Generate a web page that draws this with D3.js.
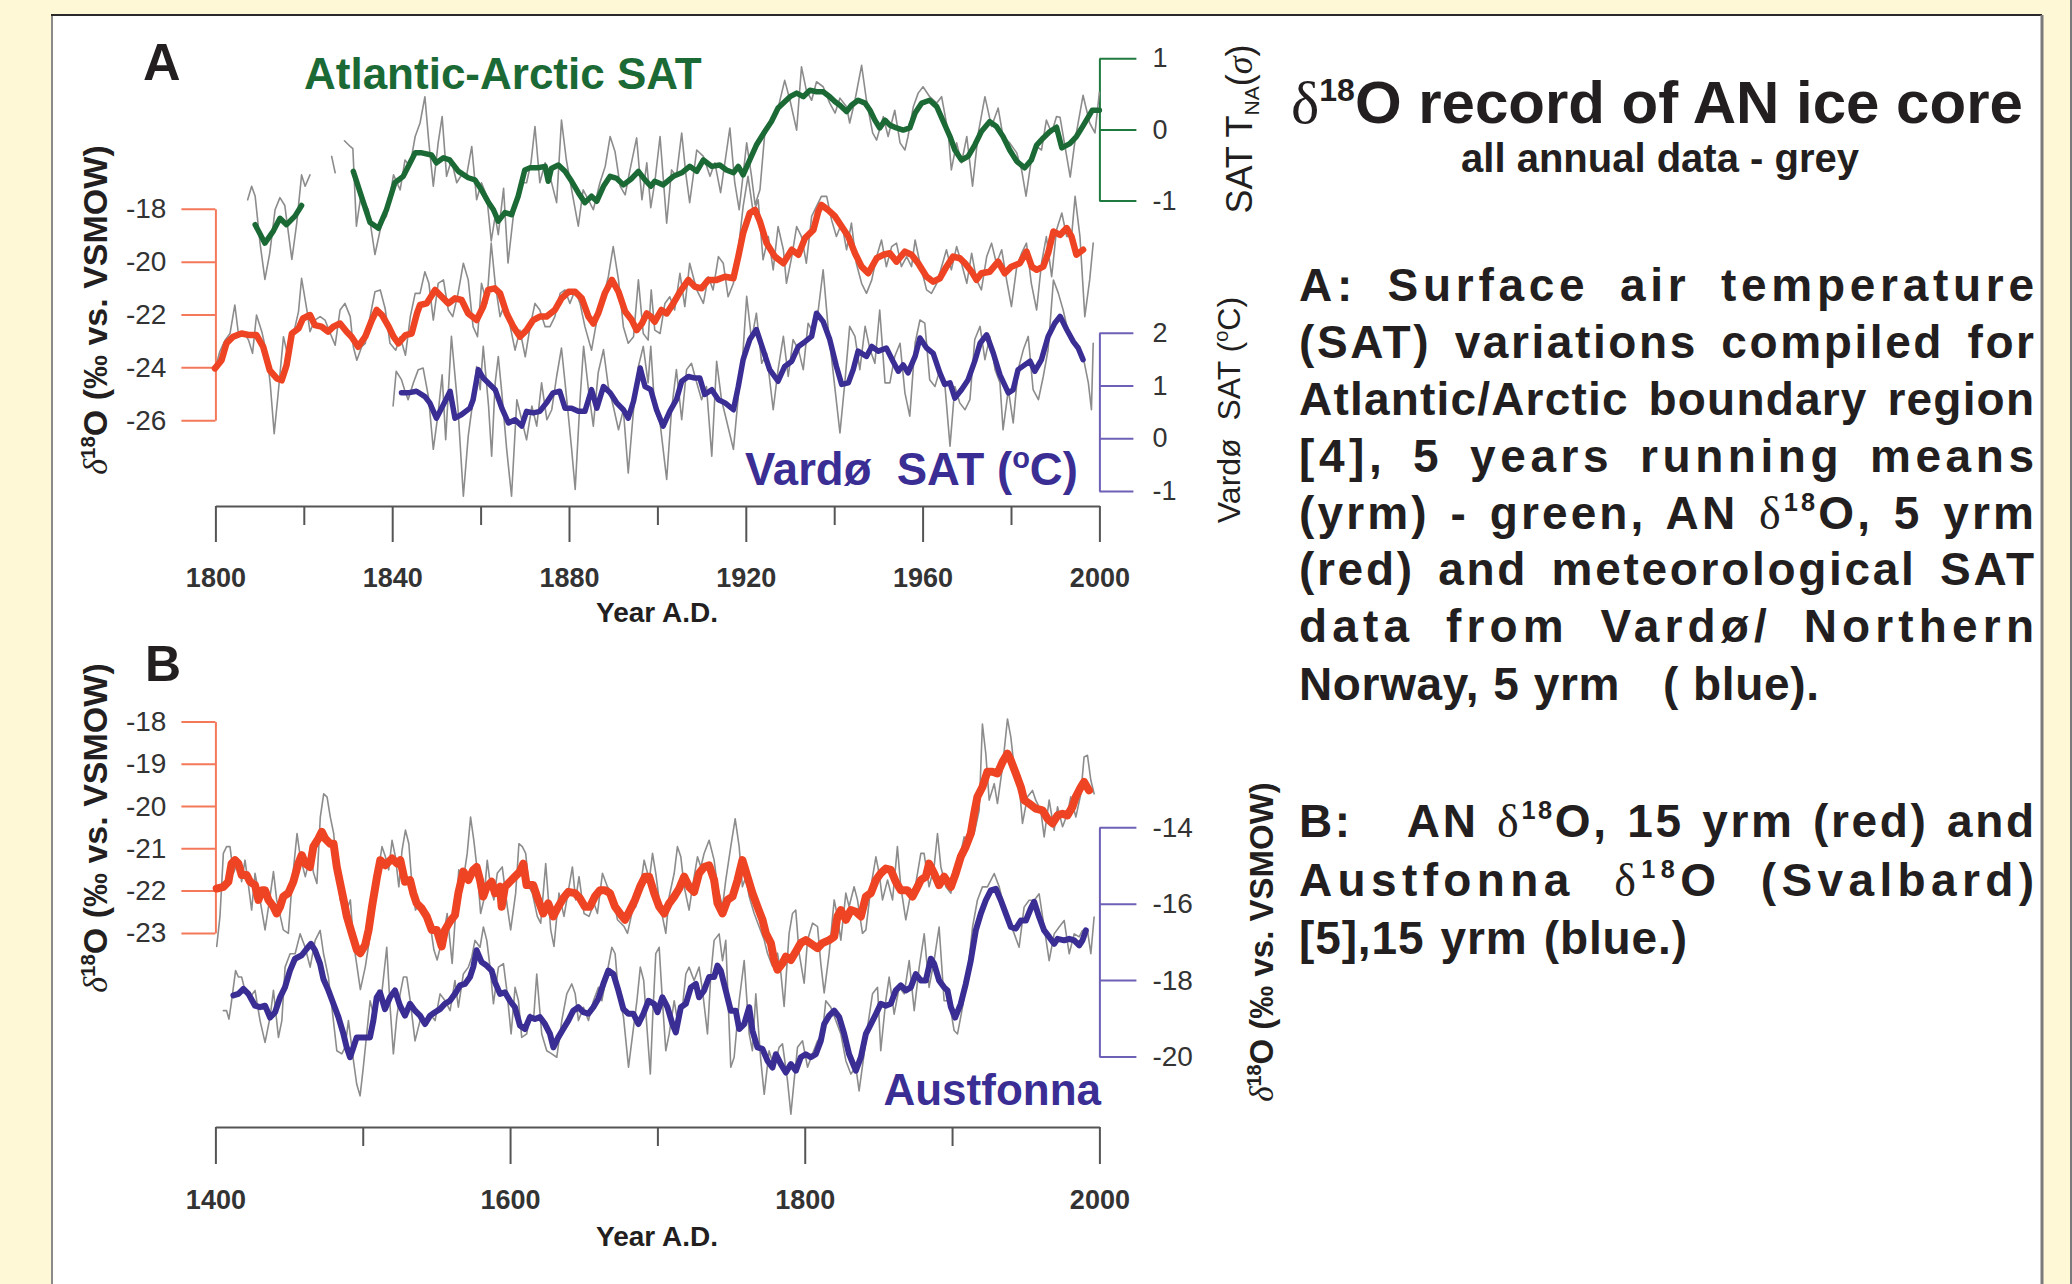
<!DOCTYPE html>
<html>
<head>
<meta charset="utf-8">
<script src="https://cdn.jsdelivr.net/npm/d3@7"></script>
<style>
  body { margin: 0; background: #fff8d7; }
  svg text { white-space: pre; }
</style>
</head>
<body>
<svg id="fig" width="2072" height="1284"></svg>
<script>
// ---- panel A : 1800-2000 ----
// Atlantic-Arctic SAT (sigma), annual (grey) and 5 yrm (green); null = gap
const aSatAnnual = [[1807.3,-0.99],[1808.2,-0.80],[1809,-0.94],[1810.1,-1.60],[1811.2,-2.11],[1812.3,-1.74],[1813.5,-1.13],[1814.6,-0.96],[1815.7,-1.07],[1817.3,-1.83],[1818.4,-1.32],[1819.5,-0.64],[1820.3,-0.80],[1821.4,-0.64],[1824,null],[1826.3,-0.38],[1827.1,-0.61],[1828,null],[1829.2,-0.16],[1830.5,-0.24],[1831.1,-0.27],[1831.9,-1.36],[1832.9,-0.94],[1834.6,-1.13],[1836.1,-1.76],[1837.6,-1.32],[1838.7,-1.22],[1840.3,-0.64],[1841.8,-0.85],[1842.9,-0.43],[1844,-0.52],[1845.2,-0.10],[1846.3,0.09],[1847.4,0.46],[1848.3,-0.19],[1849.3,-0.80],[1850.4,-0.19],[1851.3,0.18],[1852.3,-0.66],[1853.4,-0.43],[1854.6,-0.75],[1855.7,-0.64],[1856.8,-0.66],[1858,-0.24],[1859.1,-0.99],[1860.2,-0.75],[1861.4,-0.94],[1862.4,-1.57],[1863.3,-1.22],[1864,-1.48],[1865.2,-0.83],[1866.2,-1.88],[1867.4,-1.22],[1868.9,-0.75],[1870.4,-0.75],[1871.4,-0.47],[1872.3,0.04],[1873.4,-0.75],[1874.6,-0.47],[1875.7,-0.66],[1877.2,-1.03],[1878.3,0.13],[1879.4,-0.43],[1880.6,-0.85],[1882.1,-1.36],[1883.2,-0.85],[1884.4,-0.99],[1885.5,-1.13],[1887,-0.75],[1888.2,-0.52],[1889.3,-0.10],[1890.4,-0.31],[1891.6,-0.80],[1892.7,-0.92],[1893.8,-0.57],[1895.3,-0.12],[1896.5,-0.99],[1897.6,-0.47],[1898.5,-1.10],[1899.4,-0.75],[1900.6,-0.10],[1902.1,-1.32],[1903.2,-0.57],[1904.3,-0.66],[1905.5,-0.05],[1906.4,-0.61],[1907.3,-1.03],[1908.9,-0.29],[1910.4,-0.38],[1911.9,-0.66],[1913,-0.47],[1914.3,-0.89],[1916.4,0.02],[1917.5,-0.75],[1918.5,-1.13],[1920.2,-0.19],[1921.3,-0.66],[1922.1,-1.06],[1923.2,-0.85],[1924.3,-0.05],[1926.2,0.13],[1927.3,0.30],[1928.8,0.69],[1930,0.41],[1931.5,-0.01],[1932.6,0.88],[1933.7,0.55],[1934.9,0.41],[1936,0.67],[1937.5,0.60],[1939,0.37],[1940.2,0.23],[1941.3,0.44],[1942.8,0.32],[1943.5,0.09],[1944.7,0.41],[1946.2,0.90],[1947.3,0.41],[1948.7,-0.05],[1949.6,-0.15],[1951.1,0.18],[1952.2,-0.10],[1953.7,0.27],[1954.9,-0.19],[1956,-0.29],[1956.7,-0.10],[1957.9,0.32],[1959,0.51],[1960.1,0.60],[1961.6,0.46],[1963.2,0.37],[1964.3,0.46],[1965.8,-0.05],[1966.5,-0.57],[1967.7,-0.19],[1968.8,-0.47],[1970,-0.10],[1971.3,-0.80],[1972.6,-0.05],[1974.1,0.46],[1975.6,0.04],[1977.1,0.30],[1978.2,-0.10],[1979.7,-0.19],[1981.3,-0.33],[1982.4,-0.57],[1983.4,-0.94],[1984.6,-0.43],[1985.8,-0.24],[1986.9,-0.29],[1988,0.13],[1989.2,-0.05],[1990.3,0.18],[1991.1,0.17],[1993.4,-0.67],[1994.5,-0.15],[1996.3,0.48],[1997.8,0.09],[1999,-0.05],[2000,0.52]];
const aSatMean = [[1809,-1.34],[1811.2,-1.60],[1813.1,-1.43],[1814.6,-1.25],[1816.1,-1.34],[1818,-1.22],[1819.5,-1.07],[1825,null],[1831.2,-0.59],[1833.5,-1.03],[1835,-1.31],[1836.9,-1.39],[1838.7,-1.13],[1840.6,-0.75],[1842.5,-0.66],[1845.2,-0.33],[1846.7,-0.33],[1848.9,-0.36],[1850,-0.47],[1851.6,-0.40],[1853,-0.43],[1855,-0.59],[1857.2,-0.68],[1858.7,-0.71],[1860.2,-0.85],[1861.8,-1.03],[1862.9,-1.13],[1864,-1.29],[1865.5,-1.17],[1867,-1.20],[1868.5,-0.94],[1870,-0.57],[1871.2,-0.54],[1873,-0.54],[1874.6,-0.52],[1875.3,-0.73],[1876,-0.55],[1877.6,-0.50],[1879.1,-0.59],[1880.6,-0.73],[1882.1,-0.89],[1883.6,-1.03],[1885.1,-0.94],[1886.3,-1.01],[1887.8,-0.80],[1889.3,-0.66],[1890.8,-0.69],[1892.3,-0.78],[1894.2,-0.69],[1895.7,-0.59],[1897.2,-0.71],[1898.5,-0.80],[1899.4,-0.73],[1901.3,-0.78],[1903.6,-0.66],[1905.5,-0.61],[1907.3,-0.52],[1908.9,-0.59],[1910.4,-0.43],[1912.3,-0.52],[1914.1,-0.50],[1915.6,-0.57],[1917.2,-0.61],[1918.3,-0.52],[1919.4,-0.64],[1920.9,-0.43],[1922.4,-0.22],[1924.3,-0.03],[1925.8,0.11],[1927.3,0.30],[1928.5,0.37],[1930,0.46],[1931.5,0.51],[1933,0.46],[1934.5,0.55],[1936,0.53],[1937.5,0.53],[1939,0.46],[1940.2,0.39],[1941.3,0.34],[1942.8,0.25],[1943.9,0.34],[1945.4,0.41],[1947,0.37],[1948.1,0.27],[1949.2,0.13],[1950.3,0.02],[1951.5,0.13],[1952.6,0.06],[1954.1,0.02],[1955.6,-0.01],[1957.1,0.02],[1958.3,0.23],[1959.8,0.37],[1961.6,0.41],[1963.2,0.32],[1964.7,0.11],[1966.2,-0.10],[1967.3,-0.29],[1968.8,-0.43],[1970.3,-0.38],[1971.8,-0.22],[1973.3,-0.03],[1975.2,0.11],[1976.7,0.04],[1978.2,-0.10],[1979.7,-0.29],[1981.3,-0.45],[1983.1,-0.54],[1984.6,-0.43],[1985.8,-0.22],[1987.3,-0.12],[1988.8,-0.03],[1990.3,0.03],[1991.5,-0.26],[1993.3,-0.20],[1994.8,-0.10],[1996.3,0.05],[1998.4,0.27],[2000,0.27]];

// AN delta18O (permil), annual (grey) and 5 yrm (red)
const aIsoAnnual = [[1799.9,-24.1],[1801,-23.4],[1802.2,-22.97],[1803.3,-22.72],[1804.4,-21.64],[1805.2,-22.72],[1806.3,-22.65],[1807.5,-22.97],[1808.4,-23.47],[1809.3,-22.02],[1810.5,-22.65],[1811.6,-23.47],[1812.4,-24.61],[1813.3,-26.51],[1814.2,-24.99],[1815.4,-22.84],[1816.5,-23.66],[1817.6,-22.78],[1818.8,-21.89],[1819.5,-20.63],[1820.7,-21.83],[1821.4,-22.65],[1822.5,-22.21],[1823.7,-22.08],[1824.8,-22.21],[1826,-22.72],[1827.1,-23.16],[1828.2,-21.83],[1829.3,-21.58],[1830.5,-22.08],[1831.2,-23.22],[1832,-23.73],[1833.1,-23.22],[1833.9,-23.09],[1835,-22.08],[1836.1,-21.14],[1837.3,-21.07],[1838.4,-21.77],[1839.5,-23.09],[1840.8,-23.35],[1841.8,-22.84],[1843,-23.54],[1844.1,-22.08],[1845.2,-21.20],[1846.3,-21.20],[1847.4,-20.38],[1848.3,-20.82],[1849.3,-22.21],[1850.4,-20.82],[1851.6,-20.69],[1852.7,-21.83],[1853.7,-22.08],[1854.9,-21.20],[1856.1,-20.06],[1857.2,-20.69],[1858.3,-22.46],[1859.3,-22.84],[1860.2,-20.82],[1861.4,-21.58],[1862.4,-19.30],[1863.3,-20.82],[1864.4,-22.08],[1865.5,-21.58],[1866.7,-22.46],[1867.8,-23.35],[1868.9,-22.59],[1870.1,-23.60],[1871.2,-22.46],[1872.3,-21.58],[1873.4,-21.83],[1874.6,-22.46],[1875.7,-22.46],[1876.8,-22.08],[1878,-21.20],[1879.1,-21.07],[1880.2,-21.58],[1881.4,-21.07],[1882.5,-21.58],[1883.6,-22.46],[1885.1,-23.35],[1886.3,-22.21],[1887.8,-21.33],[1888.9,-20.57],[1890,-19.43],[1891.2,-20.69],[1892.3,-22.46],[1893.4,-23.09],[1894.6,-22.84],[1895.7,-20.69],[1896.8,-22.72],[1897.9,-22.97],[1898.6,-21.07],[1899.4,-22.59],[1900.6,-22.72],[1901.7,-21.58],[1902.8,-21.33],[1903.9,-21.83],[1905.1,-20.44],[1906.2,-21.70],[1907.3,-20.06],[1908.9,-21.07],[1910.4,-21.58],[1911.5,-20.57],[1912.6,-21.07],[1913.8,-19.81],[1914.9,-20.06],[1916,-21.33],[1917.2,-20.82],[1918.3,-19.55],[1919.4,-17.91],[1920.5,-16.77],[1921.7,-18.16],[1922.8,-17.66],[1923.9,-19.93],[1925.1,-19.05],[1926.2,-20.31],[1927.3,-18.67],[1928.5,-19.55],[1929.2,-20.82],[1930.4,-19.81],[1931.5,-18.67],[1932.6,-19.05],[1933.7,-20.06],[1934.9,-18.29],[1936,-17.91],[1937.1,-17.53],[1938.3,-17.53],[1939.4,-18.42],[1940.5,-19.05],[1941.7,-18.54],[1942.8,-19.55],[1943.9,-18.54],[1945,-20.06],[1946.2,-20.82],[1947.3,-21.20],[1948.5,-20.69],[1949.6,-19.81],[1950.7,-19.18],[1951.8,-20.19],[1953,-19.43],[1954.1,-19.30],[1955.2,-20.19],[1956.4,-19.81],[1957.5,-20.19],[1958.3,-19.18],[1959.4,-20.06],[1960.9,-21.07],[1962,-21.20],[1963.2,-20.82],[1964.3,-20.19],[1965.4,-19.55],[1966.5,-20.31],[1967.7,-19.43],[1968.8,-20.06],[1970,-20.82],[1971.1,-19.68],[1972.2,-20.69],[1973.3,-21.07],[1974.5,-19.81],[1975.6,-19.30],[1976.7,-20.06],[1977.9,-19.55],[1979,-20.69],[1980.1,-21.70],[1981.3,-20.19],[1982.4,-19.68],[1983.5,-19.30],[1984.6,-20.82],[1985.8,-21.83],[1986.9,-20.06],[1988,-19.05],[1989.2,-20.57],[1990.3,-18.80],[1991.5,-18.16],[1992.6,-19.05],[1993.7,-19.05],[1994.5,-17.53],[1995.6,-19.05],[1996.7,-22.08],[1997.8,-20.69],[1998.6,-19.30]];
const aIsoMean = [[1799.9,-24.04],[1801.4,-23.73],[1802.5,-23.09],[1804,-22.84],[1805.9,-22.72],[1807.8,-22.78],[1809.3,-22.78],[1810.8,-23.22],[1812.3,-24.11],[1813.9,-24.42],[1815,-24.49],[1816.1,-23.92],[1817.3,-22.72],[1818.8,-22.53],[1819.8,-22.15],[1821.4,-22.02],[1822.5,-22.40],[1824,-22.46],[1825.5,-22.65],[1826.7,-22.46],[1828.2,-22.34],[1829.7,-22.65],[1830.8,-22.84],[1832.3,-23.22],[1833.9,-22.84],[1835.4,-22.21],[1836.5,-21.83],[1837.7,-22.02],[1839.2,-22.46],[1840.3,-22.84],[1841.4,-23.09],[1843,-22.78],[1844.4,-22.72],[1845.6,-21.96],[1846.3,-21.64],[1847.8,-21.58],[1849.7,-21.07],[1851.2,-21.33],[1852.7,-21.58],[1854.2,-21.39],[1855.7,-21.45],[1857.2,-21.96],[1859.1,-22.21],[1860.6,-21.70],[1861.7,-21.07],[1863.2,-21.01],[1864.4,-21.20],[1865.9,-21.96],[1867.4,-22.46],[1868.9,-22.84],[1870.4,-22.59],[1871.9,-22.21],[1873.4,-22.08],[1874.9,-22.08],[1876.8,-21.83],[1878.3,-21.39],[1879.9,-21.14],[1881.4,-21.14],[1882.9,-21.39],[1884.4,-22.08],[1885.5,-22.34],[1886.6,-21.96],[1888.1,-21.20],[1889.7,-20.69],[1891.2,-21.14],[1892.7,-21.89],[1894.2,-22.21],[1895.3,-22.59],[1896.5,-22.34],[1897.6,-21.96],[1898.5,-22.08],[1899.4,-22.27],[1900.9,-21.83],[1902.1,-21.96],[1903.6,-21.58],[1905.1,-21.14],[1907,-20.69],[1908.5,-20.95],[1910,-21.01],[1911.5,-20.69],[1913.4,-20.69],[1915.3,-20.57],[1917.2,-20.63],[1918.3,-19.81],[1919.4,-18.92],[1920.9,-18.16],[1922.1,-18.04],[1923.2,-18.48],[1924.7,-19.30],[1926.6,-19.81],[1928.5,-20.06],[1930.4,-19.55],[1931.9,-19.74],[1933.4,-19.11],[1935.3,-18.80],[1936.4,-18.10],[1937.1,-17.85],[1938.6,-18.04],[1940.2,-18.29],[1941.7,-18.67],[1943.2,-19.05],[1944.7,-19.68],[1946.2,-20.19],[1947.7,-20.44],[1949.6,-19.87],[1951.1,-19.74],[1952.6,-19.68],[1954.1,-20.00],[1956,-19.62],[1957.5,-19.74],[1959,-20.06],[1960.9,-20.57],[1962.4,-20.76],[1963.9,-20.63],[1965.4,-20.19],[1966.9,-19.81],[1968.4,-19.87],[1969.6,-20.06],[1971.1,-20.38],[1972.2,-20.69],[1973.3,-20.44],[1975.2,-20.38],[1977.1,-20.00],[1978.6,-20.44],[1980.1,-20.19],[1982,-20.06],[1983.5,-19.62],[1984.7,-20.19],[1985.8,-20.31],[1987.3,-20.19],[1988.4,-19.68],[1989.6,-18.86],[1991.1,-18.99],[1992.6,-18.73],[1993.7,-19.05],[1994.8,-19.74],[1996.3,-19.55]];

// Vardo SAT (degC), annual (grey) and 5 yrm (blue)
const aVardoAnnual = [[1840.2,0.61],[1840.9,1.27],[1842.1,1.11],[1842.8,0.92],[1843.6,0.73],[1844.8,1.05],[1845.9,1.30],[1847,1.33],[1848.2,0.79],[1849.3,-0.21],[1850.4,0.48],[1851.3,1.20],[1852.1,-0.03],[1853.4,1.93],[1854.9,0.54],[1856.1,-1.10],[1857.2,0.04],[1858.3,0.73],[1859.1,1.36],[1859.9,0.92],[1860.6,1.74],[1861.8,0.61],[1862.5,-0.34],[1863.3,1.05],[1864,1.55],[1864.8,0.86],[1865.9,-0.21],[1867,-1.10],[1868.2,0.73],[1869.3,0.35],[1870.4,-0.03],[1871.6,0.61],[1872.7,0.23],[1873.8,1.05],[1875,0.35],[1876.1,0.54],[1877.2,1.17],[1878.3,1.71],[1879.5,0.73],[1880.6,-0.21],[1881.4,-0.97],[1882.5,0.73],[1883.3,1.74],[1884.4,0.92],[1885.5,0.23],[1886.6,1.24],[1887.8,1.68],[1888.9,0.98],[1890,0.61],[1891.2,0.16],[1892.3,0.54],[1893.4,-0.66],[1894.6,0.54],[1895.7,1.36],[1896.8,1.74],[1897.9,1.05],[1898.5,1.74],[1899.4,0.54],[1900.6,0.29],[1902.1,-0.78],[1903.2,0.54],[1904.3,1.30],[1905.5,0.35],[1906.6,1.30],[1907.7,1.42],[1908.9,1.05],[1910,0.73],[1911.1,0.98],[1912.3,-0.34],[1913.4,1.46],[1914.5,0.73],[1915.6,0.35],[1917.2,-0.21],[1918.3,0.79],[1919.4,1.68],[1920.2,2.69],[1921.3,1.87],[1922.4,2.37],[1923.6,1.42],[1924.7,1.61],[1926.2,0.54],[1927.3,1.30],[1928.5,1.93],[1929.6,1.17],[1930.7,1.87],[1931.9,1.68],[1933,1.30],[1934.1,2.18],[1935.3,1.99],[1936.4,2.43],[1937.5,3.19],[1938.6,2.12],[1940.2,0.92],[1941.3,0.10],[1942.4,1.05],[1943.5,2.12],[1944.7,1.93],[1945.8,1.30],[1947,2.12],[1948.1,1.68],[1949.2,1.42],[1950.3,2.43],[1951.5,1.05],[1952.6,1.05],[1953.7,1.55],[1954.9,1.80],[1956,0.86],[1957.1,0.42],[1958.3,1.80],[1959.4,2.24],[1960.5,2.18],[1961.6,1.11],[1962.8,0.98],[1963.9,1.30],[1965,1.05],[1966.2,-0.15],[1967.3,0.98],[1968.4,0.67],[1969.6,0.54],[1970.7,0.73],[1971.8,1.87],[1973,2.12],[1974.1,1.49],[1975.2,1.93],[1976.4,1.30],[1977.5,1.05],[1978.2,0.16],[1979.4,0.92],[1980.5,0.29],[1981.6,1.30],[1982.8,1.68],[1983.9,1.93],[1985,0.92],[1986.2,0.73],[1987.3,1.17],[1988.4,1.68],[1989.6,3.00],[1990.7,2.75],[1991.8,2.43],[1993,1.99],[1994.1,1.87],[1995.2,1.68],[1996.3,1.55],[1997.5,1.05],[1998.2,0.54],[1998.6,1.80]];
const aVardoMean = [[1842.1,0.86],[1843.6,0.86],[1845.5,0.89],[1847.4,0.79],[1848.5,0.67],[1850,0.38],[1851.6,0.64],[1853.1,0.89],[1854.2,0.38],[1855.7,0.45],[1857.6,0.57],[1858.3,0.73],[1859.5,1.30],[1860.6,1.14],[1862.1,1.02],[1863.3,0.92],[1864.8,0.57],[1866.3,0.29],[1867.8,0.35],[1869.3,0.23],[1870.4,0.51],[1871.9,0.48],[1873.4,0.51],[1874.9,0.67],[1876.4,0.86],[1877.9,0.89],[1879.1,0.57],[1880.6,0.57],[1882.1,0.51],[1883.6,0.51],[1885.1,0.92],[1886.3,0.57],[1887.8,0.98],[1889.3,0.86],[1890.8,0.67],[1892.3,0.54],[1893.4,0.38],[1894.6,0.70],[1896.1,1.33],[1897.2,0.98],[1898.5,0.92],[1899.8,0.54],[1901.3,0.23],[1902.8,0.51],[1904.3,0.73],[1905.5,1.08],[1907,1.17],[1908.5,1.14],[1909.6,1.14],[1910.7,0.83],[1912.3,0.92],[1913.8,0.73],[1915.3,0.67],[1917.2,0.54],[1918.3,0.98],[1919.4,1.49],[1920.9,1.87],[1922.4,2.06],[1923.9,1.68],[1925.4,1.30],[1927.3,1.08],[1928.8,1.36],[1930.4,1.46],[1931.9,1.74],[1933.4,1.83],[1934.9,1.93],[1936,2.37],[1937.5,2.21],[1939,1.87],[1940.5,1.36],[1941.7,1.02],[1943.2,1.05],[1944.3,1.30],[1945.4,1.65],[1947.3,1.55],[1948.5,1.74],[1950,1.65],[1951.8,1.71],[1953.3,1.46],[1954.5,1.27],[1955.6,1.39],[1956.7,1.24],[1958.3,1.55],[1959.4,1.90],[1960.9,1.71],[1962.4,1.61],[1963.9,1.24],[1965,1.02],[1966.2,1.05],[1967.3,0.76],[1968.8,0.92],[1970.3,1.11],[1971.8,1.46],[1973,1.80],[1974.5,1.96],[1976,1.61],[1977.5,1.20],[1979.4,0.86],[1980.5,0.92],[1981.6,1.30],[1983.1,1.39],[1984.3,1.46],[1985.4,1.27],[1986.9,1.49],[1988.4,1.93],[1989.9,2.18],[1991.1,2.31],[1992.6,2.06],[1994.1,1.83],[1995.2,1.71],[1996.3,1.49]];

// ---- panel B : 1400-2000 ----
// AN delta18O, annual (grey) and 15 yrm (red)
const bIsoAnnual = [[1400.9,-23.32],[1403.1,-22.61],[1405.4,-21.12],[1407.6,-20.96],[1409.9,-20.96],[1412.2,-21.59],[1415.6,-21.28],[1417.8,-21.79],[1420.1,-21.28],[1422.4,-21.87],[1424.6,-22.46],[1426.9,-21.59],[1430.3,-22.22],[1433.7,-22.93],[1437.1,-22.14],[1439.4,-21.55],[1441.6,-22.22],[1446.1,-22.93],[1449.5,-23.01],[1452,-21.83],[1455.4,-20.65],[1457.6,-21.20],[1461,-21.67],[1464.4,-21.20],[1466.7,-21.59],[1468.9,-21.83],[1471.2,-20.26],[1473.5,-19.71],[1475.8,-19.79],[1478,-20.26],[1480.3,-20.65],[1482.5,-21.59],[1484.8,-22.22],[1488.2,-22.54],[1491.6,-22.22],[1493.8,-23.24],[1496.1,-23.79],[1498.4,-24.34],[1501.8,-23.79],[1505.2,-23.01],[1507.4,-22.22],[1510.9,-21.44],[1513.1,-20.96],[1515.4,-21.20],[1517.6,-21.51],[1519.9,-20.81],[1522.2,-21.20],[1524.5,-21.91],[1526.7,-21.04],[1529,-20.57],[1531.3,-20.89],[1533.5,-21.91],[1535.8,-22.46],[1538.1,-22.30],[1541.5,-22.38],[1543.7,-22.61],[1546,-22.85],[1548.3,-23.40],[1550.5,-23.64],[1552.8,-23.32],[1555.1,-23.01],[1557.3,-22.54],[1560.7,-23.72],[1563,-22.54],[1565.2,-21.51],[1568.6,-21.67],[1570.9,-21.12],[1573.2,-20.26],[1575.4,-20.81],[1577.7,-21.51],[1580,-22.54],[1582.2,-22.22],[1584.5,-21.28],[1586.8,-21.91],[1589,-22.22],[1591.3,-21.59],[1594.7,-21.44],[1598.1,-22.38],[1600.4,-22.93],[1603.8,-22.06],[1606,-20.89],[1608.3,-20.96],[1610.6,-21.12],[1612.8,-21.91],[1615.1,-22.06],[1618.5,-22.61],[1620.8,-22.77],[1624.2,-21.36],[1627.6,-22.93],[1629.8,-23.32],[1633.2,-22.06],[1636.6,-22.61],[1640,-21.91],[1642.3,-21.44],[1644.5,-22.22],[1646.8,-21.67],[1650.2,-22.54],[1653.6,-22.61],[1657,-22.30],[1659.3,-22.54],[1662.7,-21.59],[1666.1,-21.91],[1669.5,-22.06],[1672.9,-22.69],[1677.4,-22.85],[1679.7,-23.01],[1683.1,-22.46],[1685.4,-22.38],[1688.8,-21.83],[1691,-21.28],[1694.5,-21.75],[1696.7,-21.12],[1698.9,-21.59],[1701.2,-22.22],[1703.4,-22.61],[1705.7,-23.01],[1708,-22.14],[1711.4,-21.59],[1713.6,-20.96],[1715.9,-21.20],[1718.2,-21.91],[1721.5,-22.46],[1723.8,-21.91],[1727.2,-21.20],[1729.5,-21.44],[1731.7,-21.12],[1735.1,-20.81],[1738.5,-21.28],[1740.8,-21.91],[1744.2,-22.38],[1746.4,-21.75],[1749.8,-20.96],[1752.8,-20.30],[1755.5,-20.96],[1757.7,-21.91],[1760,-21.67],[1762.3,-22.14],[1765.7,-22.54],[1769,-22.85],[1772.5,-23.17],[1774.7,-23.48],[1778.1,-23.79],[1781.5,-23.48],[1783.8,-23.95],[1786,-24.74],[1789.4,-23.01],[1791.7,-22.54],[1793.9,-22.46],[1796.2,-23.48],[1799.6,-24.19],[1801.9,-23.17],[1805.3,-22.77],[1808.7,-22.85],[1810.9,-23.72],[1813.2,-24.42],[1816.6,-23.48],[1820,-22.22],[1822.2,-22.61],[1824.5,-23.17],[1827.9,-22.06],[1830.1,-22.38],[1833.5,-21.91],[1835.8,-22.22],[1839.2,-23.01],[1841.5,-22.93],[1844.9,-21.91],[1848.3,-21.20],[1850.5,-21.59],[1852.8,-22.22],[1856.2,-21.75],[1859.6,-22.22],[1862.9,-20.96],[1865.2,-21.91],[1868.6,-22.69],[1872,-22.06],[1875.4,-21.83],[1878.8,-21.12],[1881,-21.12],[1884.4,-21.91],[1887.8,-21.44],[1890.1,-20.65],[1892.4,-21.44],[1895.8,-21.91],[1899.2,-22.06],[1901.4,-21.59],[1904.8,-21.28],[1908.2,-20.73],[1911.6,-20.81],[1915,-20.65],[1918.4,-20.10],[1920.6,-18.06],[1922.9,-18.76],[1925.2,-19.86],[1928.6,-19.47],[1930.8,-19.94],[1934.2,-19.08],[1937.6,-17.94],[1939.9,-18.37],[1942.1,-19.08],[1945.5,-19.47],[1947.8,-20.41],[1951.2,-19.78],[1954.6,-19.63],[1956.8,-19.86],[1960.2,-20.10],[1962.5,-20.73],[1965.9,-19.86],[1969.3,-20.57],[1971.6,-20.02],[1975,-20.49],[1978.3,-20.18],[1980.6,-19.78],[1984,-20.26],[1987.4,-19.71],[1989.6,-18.84],[1991.9,-18.80],[1994.2,-19.39],[1996.4,-19.71]];
const bIsoMean = [[1400.9,-21.95],[1405.4,-21.91],[1408.8,-21.79],[1411,-21.36],[1413.3,-21.28],[1415.6,-21.36],[1417.8,-21.63],[1421.2,-21.63],[1423.5,-21.79],[1426.9,-21.87],[1429.2,-22.22],[1431.5,-21.99],[1433.7,-21.99],[1436,-22.22],[1439.4,-22.38],[1441.6,-22.54],[1443.9,-22.38],[1446.1,-22.14],[1449.5,-22.06],[1452.9,-21.79],[1456.3,-21.36],[1458.6,-21.16],[1460.9,-21.36],[1464.2,-21.44],[1466.5,-20.96],[1469.9,-20.77],[1472.2,-20.61],[1474.5,-20.77],[1477.9,-20.89],[1480.2,-20.89],[1482.4,-21.44],[1484.7,-21.83],[1487,-22.22],[1489.2,-22.61],[1492.6,-23.01],[1496,-23.40],[1498.3,-23.48],[1501.7,-23.28],[1504,-22.93],[1506.3,-22.38],[1509.7,-21.67],[1511.9,-21.28],[1515.3,-21.40],[1519.9,-21.24],[1523.3,-21.36],[1525.5,-21.28],[1528.7,-21.79],[1532.1,-21.75],[1534.3,-22.06],[1536.6,-22.30],[1540,-22.42],[1543.4,-22.61],[1546.8,-22.93],[1550.2,-22.93],[1553.6,-23.32],[1555.8,-22.93],[1559.2,-22.73],[1562.6,-22.58],[1564.9,-22.06],[1568.3,-21.55],[1571.7,-21.75],[1575,-21.51],[1577.3,-21.44],[1579.6,-21.75],[1581.8,-22.14],[1584.1,-21.91],[1587.5,-21.79],[1589.8,-22.06],[1593.2,-21.91],[1594.3,-22.38],[1596.5,-21.91],[1599.9,-21.79],[1603.3,-21.67],[1606.7,-21.55],[1609,-21.36],[1611.2,-21.87],[1615.7,-21.87],[1619.1,-22.22],[1622.5,-22.54],[1625.9,-22.30],[1629.3,-22.61],[1632.7,-22.38],[1636.1,-22.18],[1639.5,-22.03],[1644,-22.06],[1647.4,-22.18],[1650.8,-22.38],[1654.2,-22.38],[1657.6,-22.14],[1661,-21.99],[1664.4,-21.99],[1667.8,-22.06],[1671.2,-22.38],[1674.6,-22.54],[1678,-22.69],[1681.4,-22.46],[1684.8,-22.22],[1688.2,-21.91],[1691.6,-21.67],[1694.4,-21.67],[1697.8,-22.06],[1701.2,-22.38],[1704.6,-22.54],[1708,-22.30],[1711.4,-22.14],[1714.8,-21.95],[1718.2,-21.67],[1721.5,-21.91],[1724.9,-22.03],[1728.3,-21.59],[1731.7,-21.44],[1735.1,-21.40],[1738.5,-21.75],[1740.8,-22.30],[1744.2,-22.54],[1747.6,-22.22],[1751,-22.14],[1754.4,-21.75],[1757.7,-21.28],[1761.1,-21.67],[1764.5,-22.06],[1767.9,-22.38],[1771.3,-22.69],[1773.6,-23.01],[1777,-23.24],[1779.2,-23.64],[1781.5,-23.87],[1784.9,-23.72],[1787.2,-23.56],[1790.6,-23.64],[1794,-23.44],[1797.3,-23.24],[1800.7,-23.17],[1805.3,-23.28],[1808.7,-23.36],[1812,-23.24],[1816.6,-23.17],[1820,-23.09],[1822.2,-22.61],[1824.5,-22.46],[1827.9,-22.69],[1831.3,-22.46],[1834.7,-22.50],[1838.1,-22.61],[1841.5,-22.14],[1844.9,-22.06],[1848.3,-21.75],[1851.6,-21.59],[1855,-21.48],[1858.4,-21.51],[1861.8,-21.79],[1865.2,-21.99],[1869.7,-21.99],[1873.1,-22.14],[1875.4,-21.99],[1878.8,-21.75],[1882.2,-21.67],[1884.4,-21.36],[1887.8,-21.59],[1891.2,-21.87],[1894.6,-21.67],[1899.2,-21.91],[1902.5,-21.59],[1905.9,-21.20],[1909.3,-20.96],[1912.7,-20.65],[1915,-20.18],[1917.2,-19.78],[1920.6,-19.55],[1924,-19.19],[1927.4,-19.19],[1930.8,-19.23],[1934.2,-18.96],[1937.6,-18.76],[1939.9,-18.92],[1943.3,-19.23],[1946.7,-19.55],[1948.9,-19.86],[1952.3,-19.94],[1956.8,-20.06],[1961.4,-20.10],[1964.8,-20.30],[1968.2,-20.41],[1971.6,-20.22],[1974.9,-20.18],[1978.3,-20.22],[1981.7,-20.02],[1984,-19.78],[1987.4,-19.55],[1989.6,-19.43],[1993,-19.63]];

// Austfonna delta18O, annual (grey) and 15 yrm (blue)
const bAustAnnual = [[1405.4,-18.80],[1407.6,-18.80],[1409.2,-19.02],[1411,-18.54],[1413.7,-17.75],[1415.6,-17.92],[1417.8,-17.92],[1420.1,-18.27],[1423.5,-18.45],[1426.9,-18.27],[1430.3,-19.06],[1433.7,-19.63],[1437.1,-18.97],[1439.4,-18.27],[1442.8,-19.50],[1445.1,-19.06],[1447.3,-17.66],[1450.7,-17.31],[1454.1,-17.31],[1457.5,-16.79],[1460.9,-17.14],[1464.3,-17.66],[1467.7,-16.96],[1471.1,-16.70],[1473.4,-17.31],[1476.7,-17.92],[1480.1,-19.06],[1482.4,-19.85],[1485.8,-19.93],[1488,-19.76],[1490.3,-19.06],[1493.7,-20.11],[1495.9,-20.72],[1498.2,-21.03],[1500.4,-20.28],[1502.7,-19.41],[1505,-18.54],[1508.4,-19.06],[1510.6,-18.27],[1512.9,-18.36],[1516.3,-17.14],[1518.6,-18.71],[1520.8,-19.93],[1523.1,-18.97],[1525.4,-18.36],[1527.6,-17.92],[1529.9,-17.92],[1532.2,-18.54],[1535.5,-19.59],[1538.9,-19.06],[1542.3,-19.06],[1545.7,-18.89],[1549.1,-19.06],[1552.5,-18.36],[1555.9,-18.54],[1559.3,-18.80],[1562.6,-18.01],[1564.9,-18.71],[1568.3,-17.84],[1571.7,-17.66],[1574,-17.40],[1576.2,-16.96],[1579.6,-17.14],[1581.9,-16.61],[1584.2,-16.96],[1586.4,-17.66],[1588.7,-18.62],[1592.1,-17.66],[1595.5,-17.57],[1597.8,-18.27],[1600.7,-19.41],[1603.4,-18.19],[1605.7,-18.54],[1607.9,-19.50],[1611.3,-19.41],[1613.6,-18.89],[1615.9,-19.06],[1618.1,-17.84],[1621.5,-19.41],[1624.9,-19.85],[1628.3,-19.93],[1631.7,-20.02],[1635.1,-19.06],[1638.5,-18.36],[1641.9,-18.10],[1644.2,-18.36],[1646.4,-19.06],[1649.8,-18.71],[1653.2,-19.06],[1656.6,-18.54],[1660,-18.19],[1662.3,-18.54],[1665.7,-17.84],[1669.1,-17.14],[1671.3,-17.31],[1673.6,-18.36],[1677,-18.97],[1680.4,-20.28],[1683.8,-19.24],[1686.1,-18.54],[1688.4,-17.66],[1690.7,-18.01],[1692.9,-19.24],[1695.2,-20.46],[1696.7,-19.06],[1698.9,-17.31],[1701.2,-17.14],[1703.4,-18.54],[1705.7,-19.85],[1708,-19.41],[1711.4,-18.54],[1713.6,-19.06],[1717,-18.71],[1719.3,-17.84],[1721.5,-17.66],[1724.9,-18.01],[1728.3,-17.66],[1730.6,-18.27],[1734,-19.41],[1736.3,-17.84],[1738.5,-16.96],[1741.9,-16.79],[1744.2,-17.49],[1746.4,-16.96],[1749.8,-20.28],[1752.1,-20.02],[1755.5,-18.54],[1758.9,-17.49],[1762.3,-19.41],[1764.5,-19.85],[1766.8,-18.36],[1770.2,-20.11],[1772.5,-20.99],[1775.8,-19.85],[1779.2,-20.28],[1782.6,-19.76],[1784.9,-19.67],[1788.3,-20.63],[1790.6,-21.51],[1792.8,-20.63],[1795.1,-19.76],[1798.5,-19.59],[1801.9,-20.28],[1805.3,-19.93],[1808.7,-19.59],[1812,-19.41],[1814.3,-18.54],[1817.7,-18.71],[1821.1,-19.06],[1824.5,-19.41],[1827.9,-20.11],[1831.3,-20.46],[1834.7,-20.28],[1836.9,-20.90],[1840.3,-19.93],[1842.6,-19.24],[1846,-18.36],[1849.4,-18.19],[1851.6,-19.85],[1855,-18.54],[1857.3,-17.92],[1860.7,-18.89],[1864.1,-18.19],[1867.5,-18.36],[1870.9,-17.49],[1874.3,-18.80],[1877.7,-17.66],[1881.1,-16.79],[1884.4,-18.19],[1887.8,-17.49],[1891.2,-16.61],[1894.6,-18.54],[1898,-18.54],[1901.4,-19.32],[1903.7,-19.41],[1907.1,-18.71],[1910.5,-17.84],[1913.9,-16.61],[1917.2,-15.91],[1920.6,-15.56],[1924,-15.56],[1928.6,-15.21],[1932,-15.56],[1935.4,-16.09],[1938.8,-16.44],[1942.2,-16.79],[1945.5,-17.14],[1948.9,-16.09],[1952.3,-15.91],[1955.8,-15.91],[1959.1,-15.74],[1962.5,-16.61],[1965.9,-17.49],[1969.3,-16.79],[1972.7,-16.61],[1976.1,-16.44],[1979.5,-17.31],[1982.9,-16.79],[1986.3,-16.87],[1988.5,-16.70],[1991.9,-16.70],[1994.2,-17.31],[1996.4,-16.35]];
const bAustMean = [[1412.2,-18.40],[1415.6,-18.36],[1419,-18.23],[1422.4,-18.36],[1426.9,-18.67],[1430.3,-18.71],[1433.7,-18.67],[1437.1,-18.98],[1440.5,-18.84],[1443.9,-18.45],[1447.2,-18.19],[1450.6,-17.75],[1454,-17.44],[1458.6,-17.35],[1462,-17.18],[1464.9,-17.05],[1467.6,-17.22],[1471,-17.57],[1473.3,-17.97],[1476.7,-18.27],[1480.1,-18.62],[1483.5,-18.97],[1486.9,-19.41],[1489.1,-19.76],[1491.4,-20.02],[1493.7,-19.76],[1495.9,-19.50],[1500.4,-19.50],[1504.9,-19.50],[1507.2,-19.06],[1509.5,-18.45],[1511.7,-18.32],[1515.1,-18.76],[1518.5,-18.45],[1521.9,-18.27],[1525.3,-18.67],[1528.7,-18.93],[1532.1,-18.62],[1535.5,-18.80],[1538.9,-18.93],[1542.3,-19.15],[1545.7,-18.93],[1549,-18.84],[1552.4,-18.76],[1555.8,-18.62],[1559.2,-18.54],[1562.6,-18.36],[1566,-18.14],[1569.4,-18.10],[1572.8,-17.92],[1575,-17.66],[1577.3,-17.22],[1580.7,-17.53],[1584.1,-17.62],[1587.5,-17.75],[1589.8,-18.06],[1593.2,-18.36],[1596.5,-18.32],[1599.9,-18.54],[1603.3,-18.71],[1606.7,-19.19],[1610.1,-19.28],[1613.5,-18.97],[1616.9,-19.02],[1620.3,-18.97],[1623.7,-19.15],[1627.1,-19.41],[1629.4,-19.76],[1632.7,-19.50],[1636.1,-19.28],[1639.5,-19.06],[1642.9,-18.80],[1646.3,-18.71],[1649.7,-18.84],[1653.1,-18.88],[1656.5,-18.71],[1659.9,-18.49],[1663.3,-18.10],[1666.7,-17.75],[1670.1,-17.84],[1673.5,-18.27],[1676.9,-18.76],[1680.3,-18.88],[1683.7,-18.88],[1687.1,-19.15],[1690.5,-18.88],[1693.9,-18.54],[1697.8,-18.62],[1700.1,-18.84],[1703.4,-18.45],[1706.8,-18.71],[1710.2,-19.15],[1712.5,-19.37],[1715.9,-18.71],[1719.3,-18.62],[1722.7,-18.19],[1726.1,-18.10],[1728.3,-18.45],[1731.7,-18.27],[1735.1,-17.92],[1738.5,-17.92],[1740.8,-17.62],[1743,-17.75],[1746.4,-18.27],[1749.8,-18.80],[1753.2,-18.80],[1755.5,-19.28],[1758.9,-19.15],[1762.3,-18.71],[1764.5,-19.32],[1767.9,-19.76],[1771.3,-19.80],[1774.7,-20.11],[1778.1,-20.29],[1780.4,-19.94],[1783.8,-20.20],[1787.2,-20.42],[1790.6,-20.20],[1794,-20.37],[1797.3,-20.02],[1800.7,-19.94],[1804.1,-20.02],[1807.5,-19.94],[1810.9,-19.59],[1813.2,-19.15],[1816.6,-18.93],[1820,-18.80],[1823.4,-18.97],[1826.8,-19.41],[1830.1,-19.94],[1834.7,-20.37],[1838.1,-20.02],[1841.5,-19.41],[1844.9,-19.15],[1848.3,-18.89],[1851.6,-18.62],[1855,-18.67],[1858.4,-18.62],[1861.8,-18.27],[1865.2,-18.14],[1868.6,-18.27],[1872,-18.19],[1875.4,-17.84],[1878.8,-18.01],[1882.2,-18.01],[1885.6,-17.44],[1887.8,-17.57],[1891.2,-18.01],[1894.6,-18.19],[1896.9,-18.27],[1899.2,-18.71],[1902.1,-18.98],[1905.9,-18.62],[1909.3,-18.10],[1912.7,-17.49],[1916.1,-16.70],[1919.5,-16.26],[1922.9,-15.91],[1926.3,-15.65],[1929.7,-15.61],[1933.1,-15.91],[1936.5,-16.26],[1939.9,-16.61],[1943.3,-16.65],[1946.7,-16.44],[1950.1,-16.44],[1953.4,-16.13],[1955.7,-15.95],[1959.1,-16.35],[1962.5,-16.70],[1965.9,-16.87],[1969.3,-17.05],[1971.6,-16.92],[1976.1,-16.96],[1979.5,-16.92],[1982.9,-16.96],[1986.3,-17.09],[1988.5,-16.96],[1990.8,-16.70]];

// tick values
const aYearsMajor = [1800, 1840, 1880, 1920, 1960, 2000];
const aYearsMinor = [1820, 1860, 1900, 1940, 1980];
const bYearsMajor = [1400, 1600, 1800, 2000];
const bYearsMinor = [1500, 1700, 1900];
const aIsoTicks = [-18, -20, -22, -24, -26];
const aSatTicks = [1, 0, -1];
const aVardoTicks = [2, 1, 0, -1];
const bIsoTicks = [-18, -19, -20, -21, -22, -23];
const bAustTicks = [-14, -16, -18, -20];

// caption lines, {d} = delta-18 symbol
const captionA = [
  "A: Surface air temperature",
  "(SAT) variations compiled for",
  "Atlantic/Arctic boundary region",
  "[4], 5 years running means",
  "(yrm) - green, AN {d}O, 5 yrm",
  "(red) and meteorological SAT",
  "data from Vardø/ Northern",
  "Norway, 5 yrm   ( blue)."
];
const captionB = [
  "B:   AN {d}O, 15 yrm (red) and",
  "Austfonna {d}O (Svalbard)",
  "[5],15 yrm (blue.)"
];

const FONT = "'Liberation Sans', Arial, Helvetica, sans-serif";
const SERIF = "'Liberation Serif', 'Times New Roman', serif";
const INK = "#231f20";
const RED = "#ee4423", RED_AX = "#f4795a";
const GREEN = "#1b6a35", GREEN_AX = "#1f7a3f";
const BLUE = "#3a2e95", BLUE_AX = "#6c61b6";
const GREY = "#8c8c8c";

const svg = d3.select("#fig");

// background + white panel
svg.append("rect").attr("width", 2072).attr("height", 1284).attr("fill", "#fff8d7");
svg.append("rect").attr("x", 52).attr("y", 15).attr("width", 1989).attr("height", 1280).attr("fill", "#fff");
svg.append("line").attr("x1", 52).attr("x2", 52).attr("y1", 15).attr("y2", 1284).attr("stroke", "#8a8a8a").attr("stroke-width", 2);
svg.append("line").attr("x1", 51).attr("x2", 2042).attr("y1", 15).attr("y2", 15).attr("stroke", "#2a2a2a").attr("stroke-width", 2);
svg.append("line").attr("x1", 2042).attr("x2", 2042).attr("y1", 15).attr("y2", 1284).attr("stroke", "#7a7a7a").attr("stroke-width", 3);
svg.append("line").attr("x1", 2071).attr("x2", 2071).attr("y1", 0).attr("y2", 1284).attr("stroke", "#7a7a7a").attr("stroke-width", 2);

// scales
const xA = d3.scaleLinear([1800, 2000], [215.4, 1099.4]);
const yIsoA = d3.scaleLinear([-26, -18], [420.2, 208.8]);
const ySat = d3.scaleLinear([-1, 1], [200.5, 58.3]);
const yVardo = d3.scaleLinear([-1, 2], [491, 332.7]);
const xB = d3.scaleLinear([1400, 2000], [215.4, 1099.4]);
const yIsoB = d3.scaleLinear([-23, -18], [932.9, 721.5]);
const yAust = d3.scaleLinear([-20, -14], [1056.5, 827.3]);

function drawLine(data, x, y, color, width) {
  const line = d3.line()
    .defined(d => d[1] != null)
    .x(d => x(d[0]))
    .y(d => y(d[1]));
  svg.append("path")
    .datum(data)
    .attr("fill", "none")
    .attr("stroke", color)
    .attr("stroke-width", width)
    .attr("stroke-linejoin", "round")
    .attr("stroke-linecap", "round")
    .attr("d", line);
}

function styleAxis(g, color, size, weight) {
  g.attr("font-family", FONT).attr("font-size", size).attr("font-weight", weight || "normal");
  g.selectAll("path.domain").attr("stroke", color).attr("stroke-width", 2);
  g.selectAll(".tick line").attr("stroke", color).attr("stroke-width", 2);
  g.selectAll(".tick text").attr("fill", "#333");
}

const fmt = d => String(d);

// ---- panel A axes ----
svg.append("g").attr("transform", "translate(0,506)")
  .call(d3.axisBottom(xA).tickValues(aYearsMinor).tickSize(19).tickSizeOuter(0).tickFormat(""))
  .call(g => g.select(".domain").remove())
  .call(g => styleAxis(g, "#555", 27, "bold"));
svg.append("g").attr("transform", "translate(0,506)")
  .call(d3.axisBottom(xA).tickValues(aYearsMajor).tickSize(36).tickSizeOuter(0).tickPadding(26).tickFormat(fmt))
  .call(g => styleAxis(g, "#555", 27, "bold"));

svg.append("g").attr("transform", "translate(215.4,0)")
  .call(d3.axisLeft(yIsoA).tickValues(aIsoTicks).tickSize(34).tickSizeOuter(0).tickPadding(15).tickFormat(fmt))
  .call(g => styleAxis(g, RED_AX, 28));
svg.append("g").attr("transform", "translate(1099.4,0)")
  .call(d3.axisRight(ySat).tickValues(aSatTicks).tickSize(37).tickSizeOuter(0).tickPadding(16).tickFormat(fmt))
  .call(g => styleAxis(g, GREEN_AX, 27));
svg.append("g").attr("transform", "translate(1099.4,0)")
  .call(d3.axisRight(yVardo).tickValues(aVardoTicks).tickSize(34).tickSizeOuter(0).tickPadding(19).tickFormat(fmt))
  .call(g => styleAxis(g, BLUE_AX, 27));

// ---- panel B axes ----
svg.append("g").attr("transform", "translate(0,1127)")
  .call(d3.axisBottom(xB).tickValues(bYearsMinor).tickSize(19).tickSizeOuter(0).tickFormat(""))
  .call(g => g.select(".domain").remove())
  .call(g => styleAxis(g, "#555", 27, "bold"));
svg.append("g").attr("transform", "translate(0,1127)")
  .call(d3.axisBottom(xB).tickValues(bYearsMajor).tickSize(37).tickSizeOuter(0).tickPadding(26).tickFormat(fmt))
  .call(g => styleAxis(g, "#555", 27, "bold"));
svg.append("g").attr("transform", "translate(215.4,0)")
  .call(d3.axisLeft(yIsoB).tickValues(bIsoTicks).tickSize(34).tickSizeOuter(0).tickPadding(15).tickFormat(fmt))
  .call(g => styleAxis(g, RED_AX, 28));
svg.append("g").attr("transform", "translate(1099.4,0)")
  .call(d3.axisRight(yAust).tickValues(bAustTicks).tickSize(37).tickSizeOuter(0).tickPadding(16).tickFormat(fmt))
  .call(g => styleAxis(g, BLUE_AX, 28));

// ---- series ----
drawLine(aSatAnnual, xA, ySat, GREY, 1.6);
drawLine(aIsoAnnual, xA, yIsoA, GREY, 1.6);
drawLine(aVardoAnnual, xA, yVardo, GREY, 1.6);
drawLine(aSatMean, xA, ySat, GREEN, 5.5);
drawLine(aIsoMean, xA, yIsoA, RED, 6.5);
drawLine(aVardoMean, xA, yVardo, BLUE, 5.5);

drawLine(bIsoAnnual, xB, yIsoB, GREY, 1.6);
drawLine(bAustAnnual, xB, yAust, GREY, 1.6);
drawLine(bIsoMean, xB, yIsoB, RED, 8);
drawLine(bAustMean, xB, yAust, BLUE, 6);

// ---- text helpers ----
function plain(x, y, str, size, opts = {}) {
  return svg.append("text")
    .attr("x", x).attr("y", y)
    .attr("font-family", FONT)
    .attr("font-size", size)
    .attr("font-weight", opts.weight || "bold")
    .attr("text-anchor", opts.anchor || "start")
    .attr("fill", opts.fill || INK)
    .text(str);
}

// delta-18-O label, rotated
function isoLabel(x, y, size) {
  const t = svg.append("text")
    .attr("transform", `translate(${x},${y}) rotate(-90)`)
    .attr("text-anchor", "middle")
    .attr("font-family", FONT).attr("font-size", size).attr("font-weight", "bold").attr("fill", INK);
  t.append("tspan").attr("font-family", SERIF).attr("font-style", "italic").attr("font-weight", "normal").text("δ");
  t.append("tspan").attr("font-size", size * 0.6).attr("dy", -size * 0.36).text("18");
  t.append("tspan").attr("dy", size * 0.36).text("O (‰ vs. VSMOW)");
}

// ---- plot labels ----
plain(143, 80, "A", 52);
plain(145, 681, "B", 50);
plain(304, 89, "Atlantic-Arctic SAT", 44, { fill: GREEN });
const vardo = plain(745, 485, "Vardø\u00a0 SAT (", 45.5, { fill: BLUE });
vardo.append("tspan").attr("font-size", 29).attr("dy", -17).text("o");
vardo.append("tspan").attr("dy", 17).text("C)");
plain(1101, 1105, "Austfonna", 44, { fill: BLUE, anchor: "end" });

plain(657, 622, "Year A.D.", 28, { anchor: "middle" });
plain(657, 1246, "Year A.D.", 28, { anchor: "middle" });

isoLabel(107, 310, 34);
isoLabel(107, 828, 34);
isoLabel(1273, 942, 33);

// SAT T_NA (sigma)
const satLab = svg.append("text")
  .attr("transform", "translate(1252,129) rotate(-90)")
  .attr("text-anchor", "middle")
  .attr("font-family", FONT).attr("font-size", 36).attr("fill", INK);
satLab.append("tspan").text("SAT T");
satLab.append("tspan").attr("font-size", 21).attr("dy", 7).text("NA");
satLab.append("tspan").attr("dy", -7).text("(");
satLab.append("tspan").attr("font-family", SERIF).attr("font-style", "italic").text("σ");
satLab.append("tspan").text(")");

// Vardo SAT (oC) axis label
const vLab = svg.append("text")
  .attr("transform", "translate(1240,410) rotate(-90)")
  .attr("text-anchor", "middle")
  .attr("font-family", FONT).attr("font-size", 32).attr("fill", INK);
vLab.append("tspan").text("Vardø\u00a0 SAT (");
vLab.append("tspan").attr("font-size", 20).attr("dy", -12).text("o");
vLab.append("tspan").attr("dy", 12).text("C)");

// ---- right-hand text ----
const title = svg.append("text").attr("x", 1291).attr("y", 123)
  .attr("font-family", FONT).attr("font-size", 60).attr("font-weight", "bold").attr("fill", INK);
title.append("tspan").attr("font-family", SERIF).attr("font-weight", "normal").text("δ");
title.append("tspan").attr("font-size", 32).attr("dy", -22).text("18");
title.append("tspan").attr("dy", 22).text("O record of AN ice core");

plain(1660, 172, "all annual data - grey", 40, { anchor: "middle" });

function captionLine(str, x, y, size, width) {
  const t = svg.append("text").attr("x", x).attr("y", y)
    .attr("font-family", FONT).attr("font-size", size).attr("font-weight", "bold").attr("fill", INK);
  str.split("{d}").forEach((part, i) => {
    if (i > 0) {
      t.append("tspan").attr("font-family", SERIF).attr("font-weight", "normal").text("δ");
      t.append("tspan").attr("font-size", size * 0.55).attr("dy", -size * 0.4).text("18");
      t.append("tspan").attr("dy", size * 0.4).text(part);
    } else {
      t.append("tspan").text(part);
    }
  });
  // stretch to the column width, mostly through letter spacing
  const natural = t.node().getComputedTextLength();
  const txt = t.node().textContent;
  const extra = width - natural;
  const spaces = (txt.match(/ /g) || []).length;
  const ls = extra * 0.75 / (txt.length - 1);
  const ws = spaces ? extra * 0.25 / spaces : 0;
  t.attr("letter-spacing", ls).attr("word-spacing", ws);
}

const capA_y = [301, 358, 415, 472, 529, 585, 642, 700];
captionA.forEach((s, i) => captionLine(s, 1299, capA_y[i], 46, i < 7 ? 735 : 520));
const capB_y = [837, 896, 954];
captionB.forEach((s, i) => captionLine(s, 1299, capB_y[i], 46, i < 2 ? 735 : 388));
</script>
</body>
</html>
